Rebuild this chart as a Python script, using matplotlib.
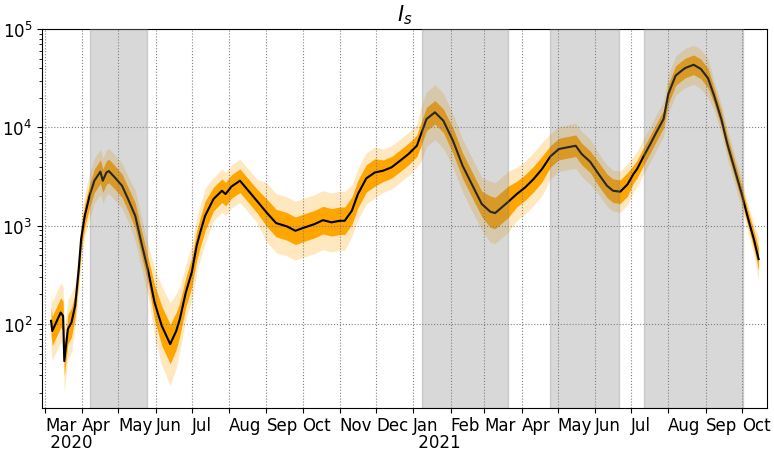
import numpy as np
import pandas as pd
import matplotlib
matplotlib.use("Agg")
import matplotlib.pyplot as plt

# median of I_s
dates = [
    "2020-03-06", "2020-03-07", "2020-03-14", "2020-03-16", "2020-03-17", "2020-03-20", "2020-03-23",
    "2020-03-26", "2020-03-29", "2020-03-31", "2020-04-03",
    "2020-04-07", "2020-04-11", "2020-04-16", "2020-04-18", "2020-04-21", "2020-04-23", "2020-04-28",
    "2020-05-04", "2020-05-09",
    "2020-05-15", "2020-05-20", "2020-05-26",
    "2020-05-31", "2020-06-06", "2020-06-13", "2020-06-18", "2020-06-21",
    "2020-06-26", "2020-07-01", "2020-07-05", "2020-07-08", "2020-07-12",
    "2020-07-19", "2020-07-26", "2020-07-29", "2020-08-03", "2020-08-10", "2020-08-17", "2020-08-24",
    "2020-09-01", "2020-09-09", "2020-09-18", "2020-09-25", "2020-10-03", "2020-10-11", "2020-10-18",
    "2020-10-25", "2020-11-01", "2020-11-05",
    "2020-11-11", "2020-11-16", "2020-11-23", "2020-11-30",
    "2020-12-07", "2020-12-14", "2020-12-21", "2020-12-28", "2021-01-04",
    "2021-01-08", "2021-01-12", "2021-01-19", "2021-01-26",
    "2021-02-03", "2021-02-11", "2021-02-20", "2021-02-27",
    "2021-03-06", "2021-03-10", "2021-03-14", "2021-03-21",
    "2021-03-28", "2021-04-04", "2021-04-11", "2021-04-18",
    "2021-04-25", "2021-05-02", "2021-05-09", "2021-05-16", "2021-05-21", "2021-05-28",
    "2021-06-04", "2021-06-11", "2021-06-16", "2021-06-22", "2021-06-28",
    "2021-07-03", "2021-07-06", "2021-07-11", "2021-07-17", "2021-07-22", "2021-07-28",
    "2021-08-01", "2021-08-07", "2021-08-11", "2021-08-15", "2021-08-22", "2021-08-28", "2021-09-03",
    "2021-09-08", "2021-09-14", "2021-09-19", "2021-09-25", "2021-10-01",
    "2021-10-06", "2021-10-11", "2021-10-15",
]
median = [
    108, 85, 131, 121, 42, 89, 104,
    153, 362, 733, 1260,
    2017, 2870, 3548, 2870, 3480, 3600, 3100,
    2550, 1870,
    1260, 678, 336,
    166, 96, 62.6, 85, 112,
    210, 338, 627, 860, 1260,
    1870, 2270, 2100, 2510, 2870, 2270, 1795,
    1368, 1065, 985, 889, 964, 1040, 1140,
    1083, 1123, 1123,
    1422, 2100, 3034, 3480,
    3630, 3930, 4580, 5360, 6510,
    8900, 12170, 14250, 11700,
    7330, 4080, 2455, 1660,
    1390, 1345, 1480, 1755,
    2100, 2455, 2985, 3775,
    5080, 6030, 6270, 6510, 5360, 4480,
    3360, 2550, 2270, 2220, 2630,
    3360, 3775, 4970, 6780, 8900, 12170,
    21900, 33600, 36900, 40200, 43400, 39300, 31600,
    21050, 12170, 6780, 3775, 2100,
    1216, 733, 458,
]
# half widths of the bands, in decades
inner_w = [
    0.15, 0.15, 0.15, 0.15, 0.15, 0.15, 0.15,
    0.12, 0.12, 0.12, 0.12,
    0.12, 0.12, 0.12, 0.12, 0.12, 0.12, 0.12,
    0.12, 0.12,
    0.13, 0.13, 0.13,
    0.18, 0.20, 0.20, 0.19, 0.17,
    0.15, 0.15, 0.15, 0.15, 0.15,
    0.12, 0.12, 0.12, 0.12, 0.12, 0.12, 0.12,
    0.14, 0.14, 0.14, 0.14, 0.14, 0.14, 0.14,
    0.14, 0.14, 0.14,
    0.14, 0.14, 0.14, 0.14,
    0.11, 0.11, 0.11, 0.11, 0.11,
    0.12, 0.12, 0.12, 0.12,
    0.13, 0.13, 0.13, 0.13,
    0.16, 0.16, 0.16, 0.16,
    0.13, 0.13, 0.13, 0.13,
    0.11, 0.11, 0.11, 0.11, 0.11, 0.11,
    0.12, 0.12, 0.12, 0.12, 0.12,
    0.09, 0.09, 0.09, 0.09, 0.09, 0.09,
    0.10, 0.10, 0.10, 0.10, 0.10, 0.10, 0.10,
    0.08, 0.08, 0.08, 0.08, 0.08,
    0.08, 0.09, 0.11,
]
outer_w = [
    0.30, 0.30, 0.30, 0.30, 0.32, 0.30, 0.30,
    0.22, 0.22, 0.22, 0.22,
    0.23, 0.23, 0.23, 0.23, 0.23, 0.23, 0.23,
    0.23, 0.23,
    0.26, 0.26, 0.26,
    0.35, 0.40, 0.42, 0.38, 0.33,
    0.28, 0.28, 0.28, 0.28, 0.28,
    0.22, 0.22, 0.22, 0.22, 0.22, 0.22, 0.22,
    0.30, 0.30, 0.30, 0.30, 0.30, 0.30, 0.30,
    0.30, 0.30, 0.30,
    0.26, 0.26, 0.26, 0.26,
    0.22, 0.22, 0.22, 0.22, 0.22,
    0.28, 0.28, 0.28, 0.28,
    0.27, 0.27, 0.27, 0.27,
    0.31, 0.31, 0.31, 0.31,
    0.27, 0.27, 0.27, 0.27,
    0.23, 0.23, 0.23, 0.23, 0.23, 0.23,
    0.21, 0.21, 0.21, 0.21, 0.21,
    0.18, 0.18, 0.18, 0.18, 0.18, 0.18,
    0.20, 0.20, 0.20, 0.20, 0.20, 0.20, 0.20,
    0.15, 0.15, 0.15, 0.15, 0.15,
    0.14, 0.16, 0.22,
]
# shaded periods
spans = [
    ("2020-04-07", "2020-05-25"),
    ("2021-01-08", "2021-03-21"),
    ("2021-04-25", "2021-06-21"),
    ("2021-07-12", "2021-10-02"),
]

t = pd.to_datetime(dates)
med = np.array(median, dtype=float)
w1 = 10 ** np.array(inner_w)
w2 = 10 ** np.array(outer_w)

fig = plt.figure(figsize=(7.74, 4.56), dpi=100)
ax = fig.add_axes([0.0543, 0.103, 0.9367, 0.831])

ax.fill_between(t, med / w2, med * w2, color="orange", alpha=0.25, lw=0)
ax.fill_between(t, med / w1, med * w1, color="orange", lw=0)
ax.plot(t, med, color="black", lw=1.5)

for a, b in spans:
    ax.axvspan(pd.Timestamp(a), pd.Timestamp(b), color="gray", alpha=0.3, zorder=5)

ax.set_yscale("log")
ax.set_ylim(14, 1e5)
ax.set_xlim(pd.Timestamp("2020-02-27 12:00"), pd.Timestamp("2021-10-22"))

months = pd.date_range("2020-03-01", "2021-10-01", freq="MS")
labels = []
for m in months:
    lab = m.strftime("%b")
    if m == months[0] or m.month == 1:
        lab += "\n " + m.strftime("%Y")
    labels.append(lab)
ax.set_xticks(months)
ax.set_xticklabels(labels, ha="left")
for lab in ax.get_xticklabels():
    lab.set_linespacing(0.95)
ax.tick_params(labelsize=12)
ax.tick_params(axis="x", pad=2)

ax.grid(True, which="major", color="gray", linestyle=":", lw=0.8)
ax.set_title("$I_s$", fontsize=15)

fig.savefig("out.png", dpi=100)
